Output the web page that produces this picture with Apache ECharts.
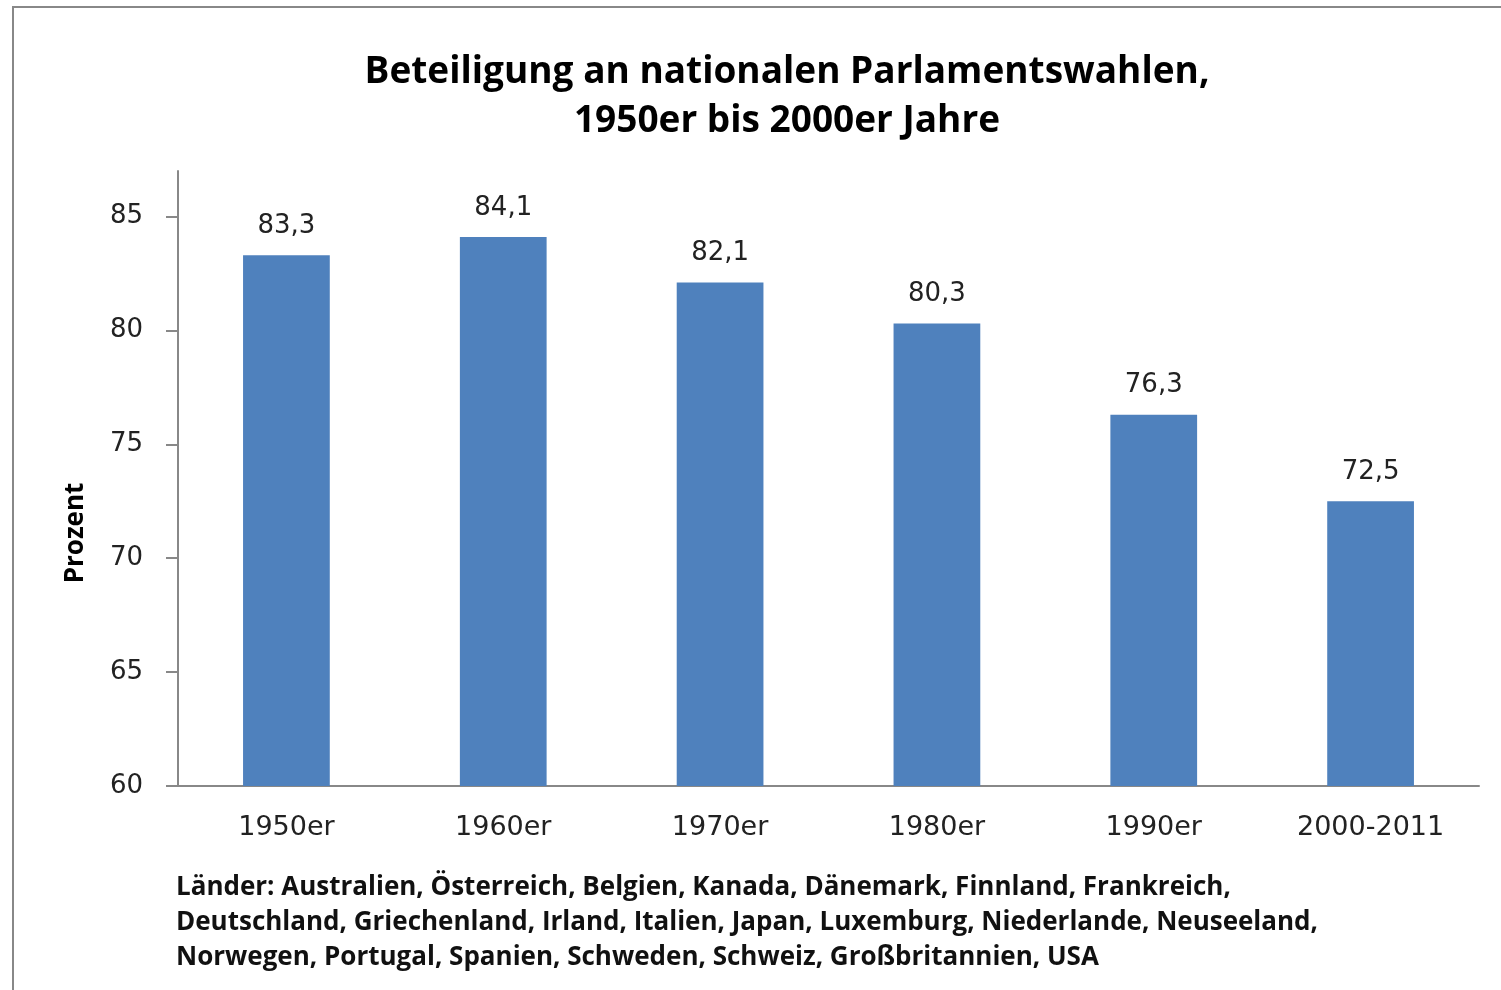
<!DOCTYPE html>
<html>
<head>
<meta charset="utf-8">
<script src="https://cdn.jsdelivr.net/npm/echarts@6/dist/echarts.min.js"></script>
<style>
  html, body { margin: 0; padding: 0; background: #fff; }
  #main { width: 1501px; height: 990px; }
</style>
</head>
<body>
<div id="main"></div>
<script>
var decades = ['1950er', '1960er', '1970er', '1980er', '1990er', '2000-2011'];
var turnout = [83.3, 84.1, 82.1, 80.3, 76.3, 72.5];
var yTicks = [60, 65, 70, 75, 80, 85];

var myChart = echarts.init(document.getElementById('main'));
var option;

option = {
  backgroundColor: '#fff',
  animation: false,
  title: {
    text: 'Beteiligung an nationalen Parlamentswahlen,\n1950er bis 2000er Jahre',
    left: 782,
    top: 43,
    textAlign: 'center',
    textStyle: {
      fontFamily: 'Open Sans',
      fontWeight: 'bold',
      fontSize: 37,
      lineHeight: 49,
      color: '#000'
    }
  },
  graphic: [
    {
      type: 'rect',
      shape: { x: 13, y: 7, width: 1700, height: 1200 },
      style: { fill: 'none', stroke: '#888', lineWidth: 2 }
    },
    {
      type: 'text',
      x: 76,
      y: 533,
      rotation: Math.PI / 2,
      style: {
        text: 'Prozent',
        font: 'bold 26px "Open Sans"',
        fill: '#000',
        align: 'center',
        verticalAlign: 'middle'
      }
    },
    {
      type: 'text',
      left: 176,
      top: 870,
      style: {
        text: 'Länder: Australien, Österreich, Belgien, Kanada, Dänemark, Finnland, Frankreich,\n' +
              'Deutschland, Griechenland, Irland, Italien, Japan, Luxemburg, Niederlande, Neuseeland,\n' +
              'Norwegen, Portugal, Spanien, Schweden, Schweiz, Großbritannien, USA',
        font: 'bold 26px "Open Sans"',
        lineHeight: 35,
        fill: '#111'
      }
    }
  ],
  grid: {
    left: 178,
    right: 22,
    top: 171,
    bottom: 204
  },
  xAxis: {
    type: 'category',
    data: decades,
    axisLine: { lineStyle: { color: '#888', width: 2 } },
    axisTick: { length: 8, lineStyle: { color: '#888', width: 2 } },
    axisLabel: {
      fontFamily: 'DejaVu Sans',
      fontSize: 27,
      color: '#222',
      margin: 28
    }
  },
  yAxis: {
    type: 'value',
    min: 60,
    max: 87,
    splitLine: { show: false },
    axisLine: { show: true, lineStyle: { color: '#888', width: 2 } },
    axisTick: {
      show: true,
      length: 12,
      customValues: yTicks,
      lineStyle: { color: '#888', width: 2 }
    },
    axisLabel: {
      customValues: yTicks,
      fontFamily: 'DejaVu Sans',
      fontSize: 26,
      color: '#222',
      margin: 35
    }
  },
  series: [
    {
      type: 'bar',
      data: turnout,
      barWidth: '40%',
      itemStyle: { color: '#4F81BD' },
      label: {
        show: true,
        position: 'top',
        distance: 16,
        fontFamily: 'DejaVu Sans',
        fontSize: 26,
        color: '#222',
        formatter: function (p) {
          return p.value.toFixed(1).replace('.', ',');
        }
      }
    }
  ]
};

option && myChart.setOption(option);
</script>
</body>
</html>
